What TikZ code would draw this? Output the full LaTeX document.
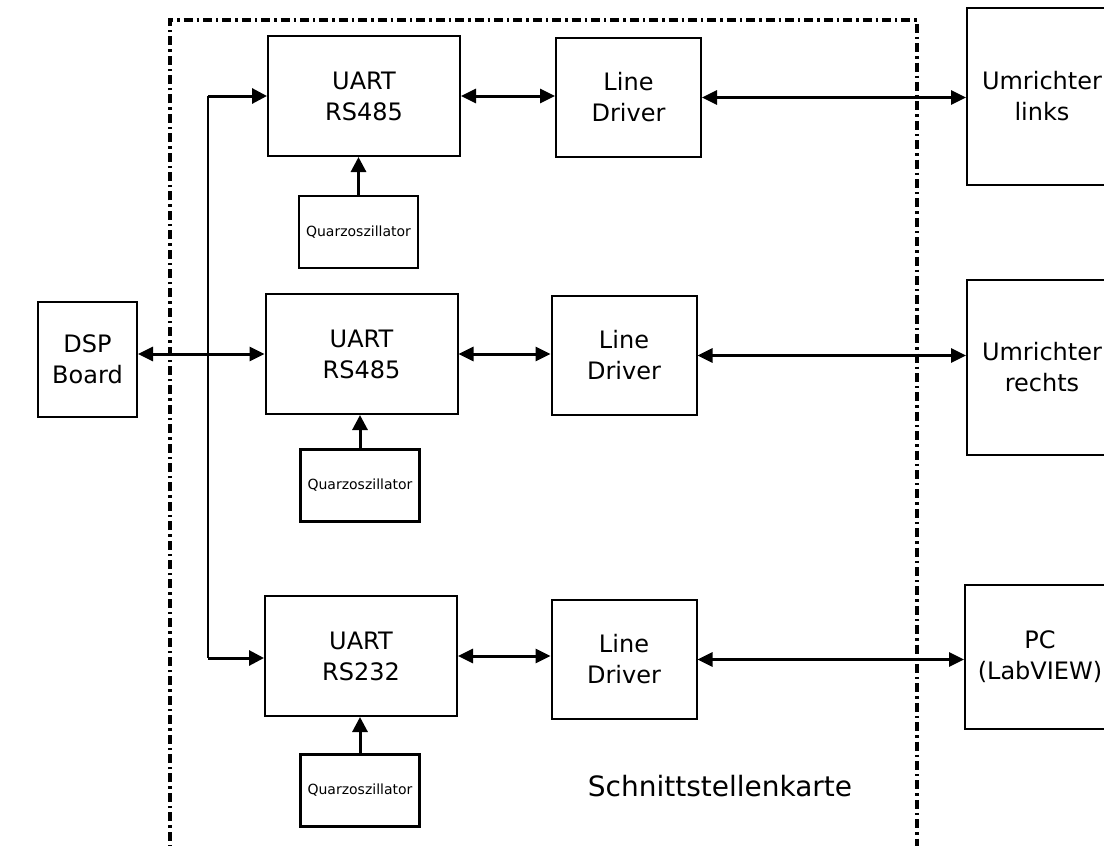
\documentclass[tikz,border=0pt]{standalone}
\usepackage{fontspec}
\setmainfont{DejaVu Sans}
\usetikzlibrary{arrows.meta, positioning, calc}

\begin{document}
\begin{tikzpicture}[
  x=0.5pt, y=-0.5pt,
  block/.style={
    rectangle, draw, line width=1pt, inner sep=0pt, align=center,
    font=\fontsize{12}{15.5}\selectfont
  },
  uart/.style={block, minimum width=96pt, minimum height=60pt},
  driver/.style={block, minimum width=72.5pt, minimum height=59.5pt},
  quarz/.style={block, minimum width=59.5pt, minimum height=36pt,
    font=\fontsize{7}{8}\selectfont},
  extern/.style={block, minimum width=75pt},
  arr/.style={-{Triangle[length=7.5pt, width=7.5pt]}, line width=1.5pt},
  biarr/.style={{Triangle[length=7.5pt, width=7pt]}-{Triangle[length=7.5pt, width=7pt]}, line width=1.5pt},
  frame/.style={line width=1.6pt, dash pattern=on 4.5pt off 2pt on 1.2pt off 2pt}
]
  \clip (0,0) rectangle (1104,846);

  % Karte (Rahmen)
  \draw[frame] (170,860) -- (170,20) -- (917,20) -- (917,860);
  \node[font=\fontsize{14}{17}\selectfont] (karte) at (720,786) {Schnittstellenkarte};

  % DSP Board
  \node[block, minimum width=49.5pt, minimum height=57.5pt] (dsp) at (87.5,359.5) {DSP\\Board};

  % UART Bausteine
  \node[uart] (uart1) at (364,96) {UART\\RS485};
  \node[uart] (uart2) at (361.5,354) {UART\\RS485};
  \node[uart] (uart3) at (361,656) {UART\\RS232};

  % Line Driver
  \node[driver] (ld1) at (628.5,97.5) {Line\\Driver};
  \node[driver] (ld2) at (624,355.5) {Line\\Driver};
  \node[driver] (ld3) at (624,659.5) {Line\\Driver};

  % Quarzoszillatoren
  \node[quarz] (q1) at (358.5,232) {Quarzoszillator};
  \node[quarz, line width=1.5pt] (q2) at (360,485) {Quarzoszillator};
  \node[quarz, line width=1.5pt] (q3) at (360,790.5) {Quarzoszillator};

  % Externe Geraete
  \node[extern, minimum height=88.5pt] (umr1) at (1042,96.5) {Umrichter\\links};
  \node[extern, minimum height=87.5pt] (umr2) at (1042,367.5) {Umrichter\\rechts};
  \node[extern, minimum height=72pt] (pc) at (1040,657) {PC\\(LabVIEW)};

  % Bus
  \coordinate (bustop) at (208,96);
  \coordinate (busbot) at (208,658);
  \draw[line width=1pt] (bustop) -- (busbot);
  \draw[arr] (bustop) -- (bustop -| uart1.west);
  \draw[arr] (busbot) -- (busbot -| uart3.west);
  \draw[biarr] (dsp.east |- uart2.west) -- (uart2.west);

  % UART <-> Line Driver
  \draw[biarr] (uart1.east) -- (uart1.east -| ld1.west);
  \draw[biarr] (uart2.east) -- (uart2.east -| ld2.west);
  \draw[biarr] (uart3.east) -- (uart3.east -| ld3.west);

  % Line Driver <-> extern
  \draw[biarr] (ld1.east) -- (ld1.east -| umr1.west);
  \draw[biarr] (ld2.east) -- (ld2.east -| umr2.west);
  \draw[biarr] (ld3.east) -- (ld3.east -| pc.west);

  % Quarz -> UART
  \draw[arr] (q1.north) -- (q1.north |- uart1.south);
  \draw[arr] (q2.north) -- (q2.north |- uart2.south);
  \draw[arr] (q3.north) -- (q3.north |- uart3.south);
\end{tikzpicture}
\end{document}
